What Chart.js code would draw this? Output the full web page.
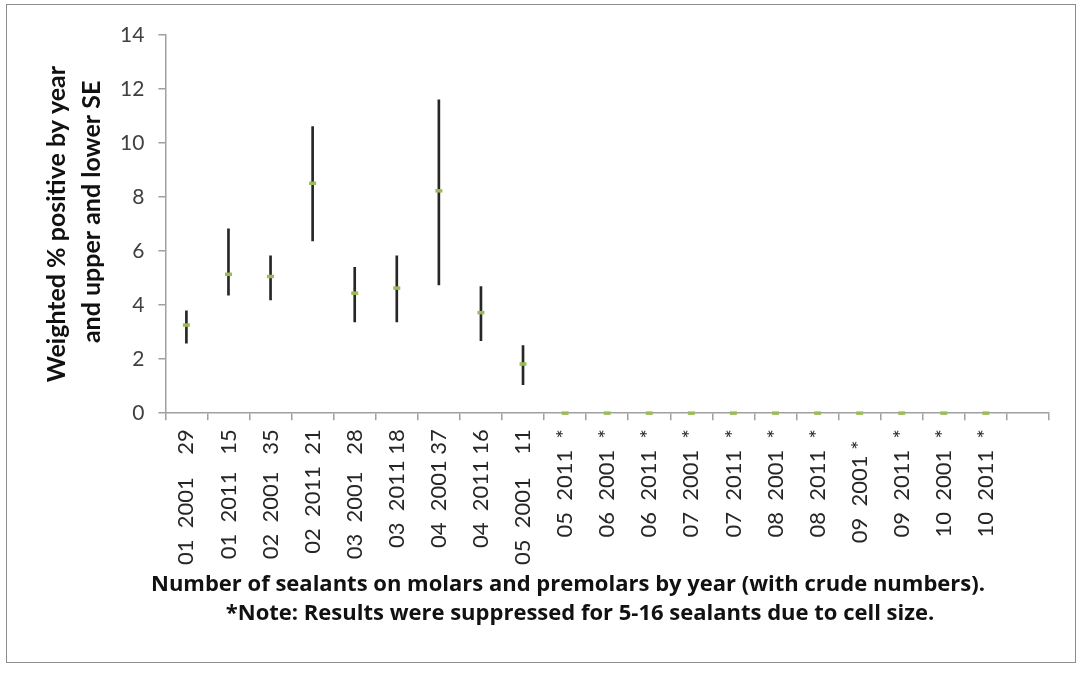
<!DOCTYPE html>
<html>
<head>
<meta charset="utf-8">
<script src="https://cdn.jsdelivr.net/npm/chart.js@4.4.1/dist/chart.umd.min.js"></script>
<style>
  body { margin: 0; background: #fff; }
  #frame {
    position: absolute; left: 6px; top: 4px;
    width: 1068px; height: 657px;
    border: 1.5px solid #8c8c8c;
  }
</style>
</head>
<body>
<div id="frame"><canvas id="chart"></canvas></div>
<script>
// categories (tooth group, year, crude number), last slot is empty
const categories = [
  '01  2001    29', '01  2011   15', '02  2001   35', '02  2011  21',
  '03  2001   28', '03  2011 18', '04  2001 37', '04  2011 16',
  '05  2001    11', '05  2011  *', '06  2001  *', '06  2011  *',
  '07  2001  *', '07  2011  *', '08  2001  *', '08  2011  *',
  '09  2001 *  ', '09  2011  *', '10  2001  *', '10  2011  *', ''
];
// weighted % positive
const weighted = [3.26, 5.14, 5.06, 8.51, 4.44, 4.63, 8.23, 3.72, 1.82,
  0, 0, 0, 0, 0, 0, 0, 0, 0, 0, 0, null];
const upperSE = [3.79, 6.82, 5.82, 10.61, 5.40, 5.82, 11.60, 4.69, 2.50];
const lowerSE = [2.59, 4.37, 4.19, 6.38, 3.38, 3.38, 4.75, 2.68, 1.05];
const yTicks = [0, 2, 4, 6, 8, 10, 12, 14];

const yTitle = ['Weighted % positive by year', '    and upper and lower SE'];
const xNote = ['Number of sealants on molars and premolars by year (with crude numbers).',
  '*Note: Results were suppressed for 5-16 sealants due to cell size.'];

const errorBars = categories.map((c, i) =>
  i < upperSE.length ? [lowerSE[i], upperSE[i]] : null);

// draws the two note lines under the rotated labels
const notePlugin = {
  id: 'xnote',
  afterDraw(chart) {
    const ctx = chart.ctx;
    ctx.save();
    ctx.font = 'bold 22px "Open Sans"';
    ctx.fillStyle = '#111';
    ctx.textAlign = 'center';
    ctx.textBaseline = 'middle';
    ctx.fillText(xNote[0], 561, 580);
    ctx.fillText(xNote[1], 573, 609);
    ctx.restore();
  }
};

const ctx = document.getElementById('chart').getContext('2d');
const chart = new Chart(ctx, {
  type: 'bar',
  data: {
    labels: categories,
    datasets: [{
      type: 'line',
      label: 'Weighted %',
      data: weighted,
      showLine: false,
      clip: false,
      pointStyle: 'line',
      pointRadius: 3.5,
      pointBorderWidth: 3.5,
      borderColor: '#9bbb59',
      backgroundColor: '#9bbb59',
      order: 0
    }, {
      label: 'SE',
      data: errorBars,
      backgroundColor: '#262626',
      barThickness: 2,
      order: 1
    }]
  },
  options: {
    responsive: true,
    maintainAspectRatio: false,
    animation: false,
    layout: { padding: { top: 30, right: 26, bottom: 88, left: 32 } },
    plugins: {
      legend: { display: false },
      tooltip: { enabled: false }
    },
    scales: {
      x: {
        offset: true,
        grid: { offset: true, drawOnChartArea: false, drawTicks: true, tickLength: 7, color: '#a0a0a0', lineWidth: 1.5 },
        border: { color: '#a0a0a0', width: 1.5 },
        ticks: {
          autoSkip: false, minRotation: 90, maxRotation: 90, padding: 9,
          color: '#262626', font: { family: 'Lato', size: 22 }
        }
      },
      y: {
        min: 0, max: 14,
        afterBuildTicks: axis => { axis.ticks = yTicks.map(v => ({ value: v })); },
        grid: { drawOnChartArea: false, drawTicks: true, tickLength: 7, color: '#a0a0a0', lineWidth: 1.5 },
        border: { color: '#a0a0a0', width: 1.5 },
        ticks: { padding: 14, color: '#404040', font: { family: 'Lato', size: 21 } },
        title: {
          display: true, text: yTitle, color: '#111', padding: { top: 0, bottom: -3 },
          font: { family: 'Lato', size: 25, weight: 'bold', lineHeight: 1.4 }
        }
      }
    }
  },
  plugins: [notePlugin]
});
</script>
</body>
</html>
